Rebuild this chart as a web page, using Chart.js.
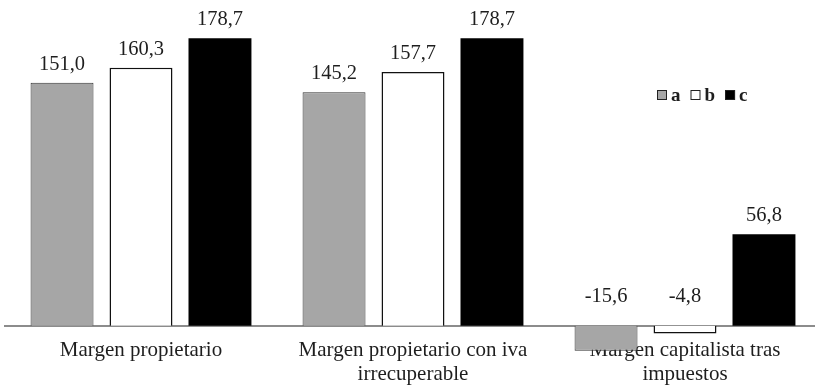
<!DOCTYPE html>
<html>
<head>
<meta charset="utf-8">
<script src="https://cdn.jsdelivr.net/npm/chart.js@4/dist/chart.umd.min.js"></script>
<style>
  html, body { margin: 0; padding: 0; background: #fff; overflow: hidden; }
  #wrap { width: 821px; height: 386px; }
</style>
</head>
<body>
<div id="wrap"><canvas id="c" width="821" height="386"></canvas></div>
<script>
// Categories and series
const categories = [
  'Margen propietario',
  ['Margen propietario con iva', 'irrecuperable'],
  ['Margen capitalista tras', 'impuestos']
];
const seriesNames = ['a', 'b', 'c'];
const seriesA = [151.0, 145.2, -15.6];
const seriesB = [160.3, 157.7, -4.8];
const seriesC = [178.7, 178.7, 56.8];

const FONT = '"Liberation Serif", "Times New Roman", serif';
const fmt = v => v.toFixed(1).replace('.', ',');

// Value labels: above the bar top for positive values, above the zero line for negative ones
const valueLabels = {
  id: 'valueLabels',
  afterDatasetsDraw(chart) {
    const ctx = chart.ctx;
    const zeroY = chart.scales.y.getPixelForValue(0);
    ctx.save();
    ctx.font = '20.5px ' + FONT;
    ctx.fillStyle = '#1e1e1e';
    ctx.textAlign = 'center';
    ctx.textBaseline = 'alphabetic';
    chart.data.datasets.forEach((ds, i) => {
      const meta = chart.getDatasetMeta(i);
      meta.data.forEach((bar, j) => {
        const v = ds.data[j];
        const y = v >= 0 ? bar.y - 13 : zeroY - 24;
        ctx.fillText(fmt(v), bar.x, y);
      });
    });
    ctx.restore();
  }
};

// Inline legend inside the plot area
const inlineLegend = {
  id: 'inlineLegend',
  afterDraw(chart) {
    const ctx = chart.ctx;
    ctx.save();
    ctx.font = 'bold 19px ' + FONT;
    ctx.textBaseline = 'alphabetic';
    ctx.textAlign = 'left';
    let x = 657;
    const top = 90, size = 10;
    chart.data.datasets.forEach(ds => {
      ctx.fillStyle = ds.backgroundColor;
      ctx.fillRect(x, top, size, size);
      ctx.strokeStyle = '#222';
      ctx.lineWidth = 1;
      ctx.strokeRect(x + 0.5, top + 0.5, size - 1, size - 1);
      x += size + 4;
      ctx.fillStyle = '#1e1e1e';
      ctx.fillText(ds.label, x, top + size + 0.5);
      x += ctx.measureText(ds.label).width + 10;
    });
    ctx.restore();
  }
};

new Chart(document.getElementById('c'), {
  type: 'bar',
  data: {
    labels: categories,
    datasets: [
      { label: seriesNames[0], data: seriesA, backgroundColor: '#a6a6a6', borderColor: '#333', borderWidth: 1 },
      { label: seriesNames[1], data: seriesB, backgroundColor: '#ffffff', borderColor: '#111', borderWidth: 1.5 },
      { label: seriesNames[2], data: seriesC, backgroundColor: '#000000', borderColor: '#000', borderWidth: 0 }
    ]
  },
  options: {
    responsive: false,
    animation: false,
    devicePixelRatio: 1,
    layout: { padding: { top: 4, bottom: 4, left: 5, right: 0 } },
    datasets: { bar: { categoryPercentage: 0.871, barPercentage: 0.797 } },
    plugins: {
      legend: { display: false },
      tooltip: { enabled: false }
    },
    scales: {
      x: {
        position: { y: 0 },
        grid: { display: false, drawTicks: false },
        border: { display: true, color: '#8c8c8c', width: 2 },
        ticks: {
          padding: 12,
          color: '#1e1e1e',
          maxRotation: 0,
          autoSkip: false,
          font: { family: FONT, size: 21, lineHeight: 1.17 }
        }
      },
      y: {
        display: false,
        min: -35,
        max: 200
      }
    }
  },
  plugins: [valueLabels, inlineLegend]
});
</script>
</body>
</html>
